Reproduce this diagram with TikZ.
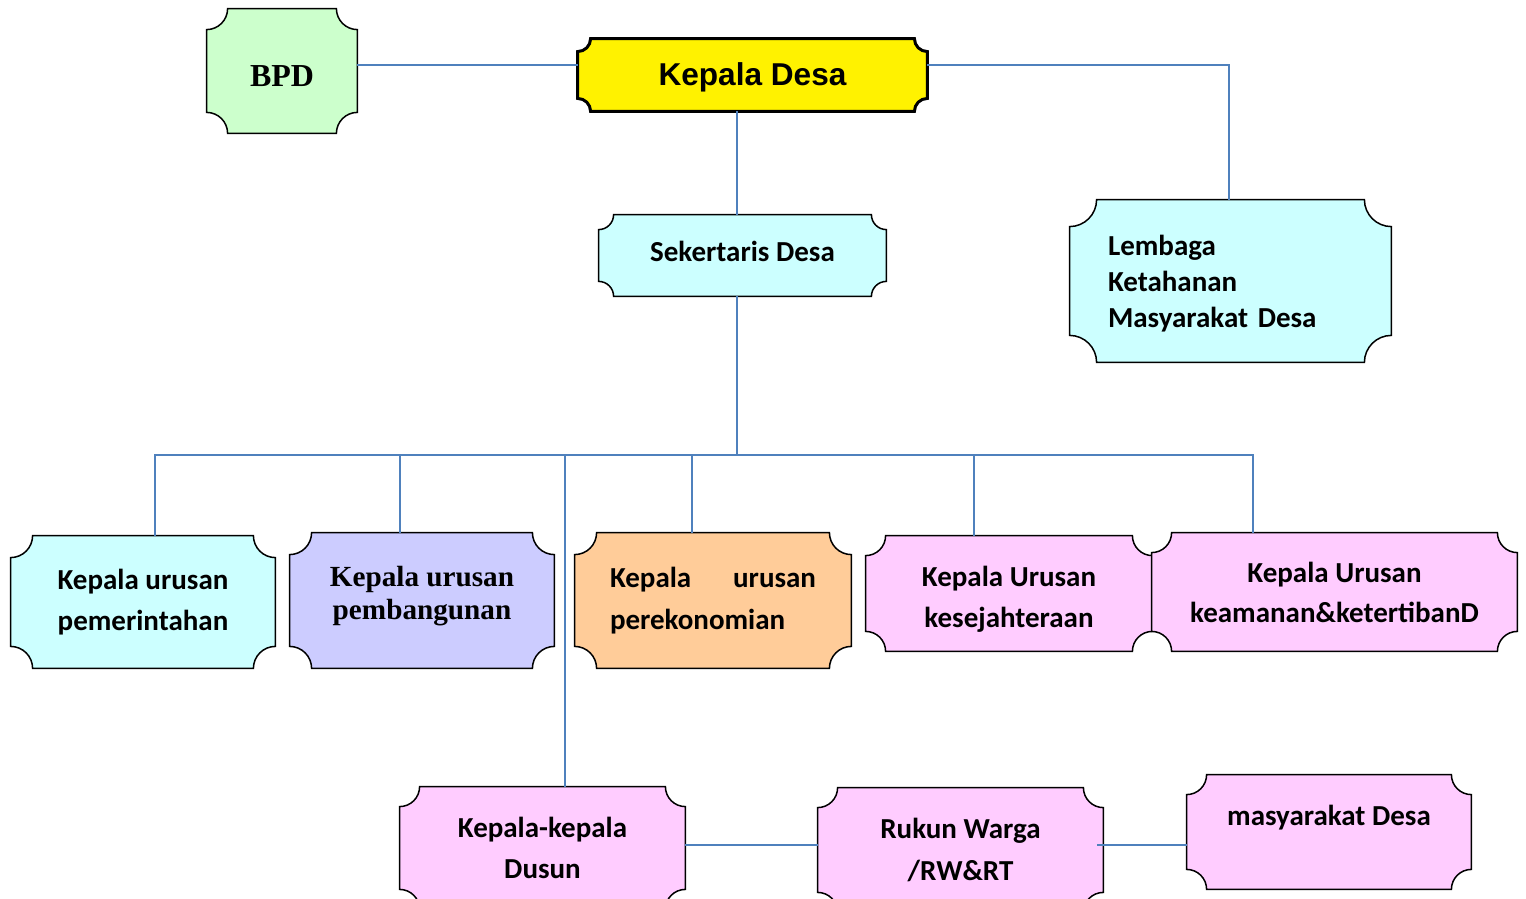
\documentclass[tikz,border=0pt]{standalone}
\usepackage{fontspec}
\setmainfont{Carlito}
\newfontfamily\arialfont{Liberation Sans}
\newfontfamily\timesfont{Liberation Serif}
\usepackage{tikz}
\usetikzlibrary{calc,backgrounds}
\definecolor{linkBlue}{HTML}{4F81BD}
\definecolor{plGreen}{HTML}{CCFFCC}
\definecolor{plCyan}{HTML}{CCFFFF}
\definecolor{plLilac}{HTML}{CCCCFF}
\definecolor{plPeach}{HTML}{FFCC99}
\definecolor{plPink}{HTML}{FFCCFF}
\tikzset{
    unit/.style={inner sep=0pt, align=center, font=\bfseries\fontsize{14.5}{20.5}\selectfont},
    plaqueLine/.style={draw=black, line width=0.75pt},
    link/.style={draw=linkBlue, line width=1pt},
}
% plaque outline round a node: style, node, corner radius
\newcommand{\plaque}[3]{
    \begin{scope}[on background layer]
        \filldraw[plaqueLine, #1] ($(#2.south west)+(#3,0)$) -- ($(#2.south east)+(-#3,0)$)
            arc[start angle=180, end angle=90, radius=#3] -- ($(#2.north east)+(0,-#3)$)
            arc[start angle=270, end angle=180, radius=#3] -- ($(#2.north west)+(#3,0)$)
            arc[start angle=0, end angle=-90, radius=#3] -- ($(#2.south west)+(0,#3)$)
            arc[start angle=90, end angle=0, radius=#3] -- cycle;
    \end{scope}
}
% invisible struts to move text up or down in its box
\newcommand{\padtop}[1]{\rule{0pt}{#1}}
\newcommand{\padbot}[1]{\rule[-#1]{0pt}{0pt}}
\begin{document}
\begin{tikzpicture}[x=0.5pt, y=0.5pt]
    \useasboundingbox (0,0) rectangle (1526,-899);

    \node[unit, minimum width=75pt, minimum height=62pt, text height=15.6pt, text depth=0pt, font=\timesfont\bfseries\fontsize{16}{19}\selectfont] (bpd) at (282,-71) {BPD};
    \plaque{fill=plGreen}{bpd}{10.5pt}
    \node[unit, minimum width=174.5pt, minimum height=36pt, text height=14.3pt, text depth=3.3pt, font=\arialfont\bfseries\fontsize{15.8}{19}\selectfont] (kades) at (752.5,-75) {Kepala Desa};
    \plaque{fill=yellow, line width=1.5pt}{kades}{6.5pt}
    \node[unit, minimum width=143.5pt, minimum height=40.5pt, text height=9.7pt, text depth=4pt] (sekdes) at (742.5,-255.5) {Sekertaris Desa};
    \plaque{fill=plCyan}{sekdes}{7.5pt}
    \node[unit, minimum width=160.5pt, minimum height=81pt, text width=122.5pt, align=left, font=\bfseries\fontsize{14.5}{18}\selectfont] (lkmd) at (1230.5,-281) {\padtop{13pt}Lembaga\\Ketahanan\\Masyarakat Desa};
    \plaque{fill=plCyan}{lkmd}{13.5pt}

    % kepala urusan
    \node[unit, minimum width=132pt, minimum height=66pt] (kaurPem) at (143,-602) {Kepala urusan\\pemerintahan};
    \plaque{fill=plCyan}{kaurPem}{11pt}
    \node[unit, minimum width=132pt, minimum height=67.5pt, font=\timesfont\bfseries\fontsize{14.6}{16.5}\selectfont] (kaurBang) at (422,-600.5) {Kepala urusan\\pembangunan\padbot{7.3pt}};
    \plaque{fill=plLilac}{kaurBang}{11pt}
    \node[unit, minimum width=138pt, minimum height=67.5pt, text width=103pt, align=left, font=\bfseries\fontsize{14.5}{21}\selectfont] (kaurEkon) at (713,-600.5) {Kepala\hfill urusan\\perekonomian};
    \plaque{fill=plPeach}{kaurEkon}{11pt}
    \node[unit, minimum width=143pt, minimum height=57.5pt] (kaurKesra) at (1009,-593.5) {\padtop{16pt}Kepala Urusan\\kesejahteraan};
    \plaque{fill=plPink}{kaurKesra}{10pt}
    \node[unit, minimum width=182.5pt, minimum height=59pt, font=\bfseries\fontsize{14.5}{20}\selectfont] (kaurTrib) at (1334.5,-592) {Kepala Urusan\\keamanan\&ketertibanD};
    \plaque{fill=plPink}{kaurTrib}{10pt}

    % bawah
    \node[unit, minimum width=142.5pt, minimum height=61pt] (kadus) at (542.5,-848) {Kepala-kepala\\Dusun};
    \plaque{fill=plPink}{kadus}{10pt}
    \node[unit, minimum width=142.5pt, minimum height=62pt, font=\bfseries\fontsize{14.5}{21}\selectfont] (rwrt) at (960.5,-850) {Rukun Warga\\/RW\&RT};
    \plaque{fill=plPink}{rwrt}{10pt}
    \node[unit, minimum width=142pt, minimum height=57pt, text height=9pt, text depth=15.6pt] (warga) at (1329,-832) {masyarakat Desa};
    \plaque{fill=plPink}{warga}{10pt}

    % garis
    \draw[link] ([yshift=3pt]bpd.east) -- ([yshift=3pt]bpd.east -| kades.west);
    \draw[link] ([yshift=5pt]kades.east) -| ([xshift=-0.75pt]lkmd.north);
    \draw[link] ([xshift=-2.75pt]sekdes.north) -- ([xshift=-2.75pt]sekdes.north |- kades.south);
    \coordinate (bus) at ([xshift=-2.75pt]sekdes.south |- 0,-455);
    \draw[link] ([xshift=-2.75pt]sekdes.south) -- (bus);
    \foreach \kaur/\dx in {kaurPem/6pt, kaurBang/-11pt, kaurEkon/-10.5pt, kaurKesra/-17.5pt, kaurTrib/-40.75pt, kadus/11.25pt}
        \draw[link] ([xshift=\dx]\kaur.north) |- (bus);
    \draw[link] ([yshift=1.5pt]kadus.east) -- ([yshift=1.5pt]kadus.east -| rwrt.west);
    \draw[link] ([xshift=-3pt, yshift=2.5pt]rwrt.east) -- ([yshift=2.5pt]rwrt.east -| warga.west);
\end{tikzpicture}
\end{document}
